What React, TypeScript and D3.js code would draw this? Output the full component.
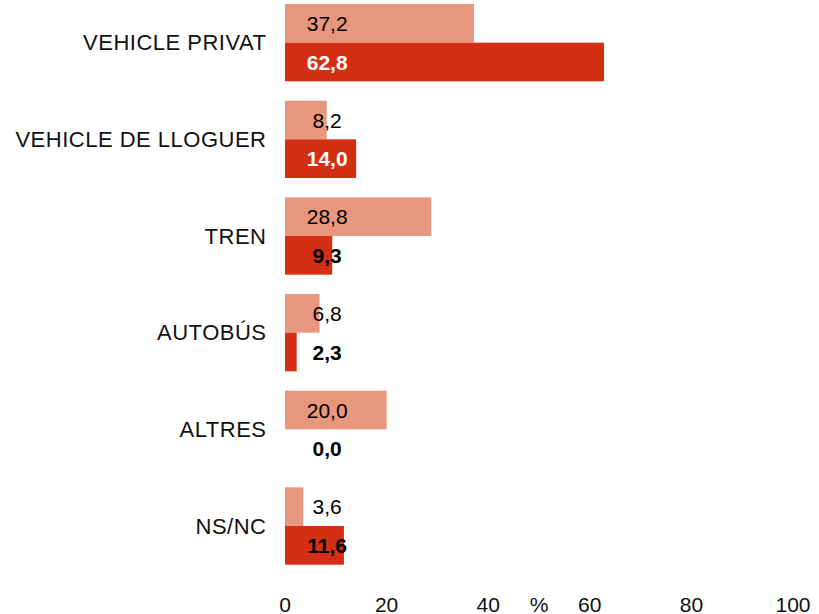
import * as d3 from 'd3'

const categories = ['VEHICLE PRIVAT', 'VEHICLE DE LLOGUER', 'TREN', 'AUTOBÚS', 'ALTRES', 'NS/NC']
const seriesKeys = ['a', 'b']
const lightValues = [37.2, 8.2, 28.8, 6.8, 20.0, 3.6]
const redValues = [62.8, 14.0, 9.3, 2.3, 0.0, 11.6]
const xTicks = [0, 20, 40, 60, 80, 100]

const fmt = (v: number) => v.toFixed(1).replace('.', ',')

export default function App() {
  const width = 819
  const height = 614
  const font = "Arial, 'Liberation Sans', sans-serif"

  const x = d3.scaleLinear().domain([0, 100]).range([285, 793])

  const step = 96.67
  const y = d3.scaleBand<string>()
    .domain(categories)
    .range([4, 4 + 5 * step + step * 0.8])
    .paddingInner(0.2)
    .paddingOuter(0)

  const sub = d3.scaleBand<string>()
    .domain(seriesKeys)
    .range([0, y.bandwidth()])
    .padding(0)

  const colors = { a: '#E8967D', b: '#D42E14' }
  const labelX = x(8.3)

  return (
    <svg
      width={width}
      height={height}
      style={{ position: 'absolute', left: 0, top: 0, background: '#fff' }}
      fontFamily={font}
    >
      {categories.map((cat, i) => {
        const y0 = y(cat)!
        const rows = [
          { key: 'a', v: lightValues[i] },
          { key: 'b', v: redValues[i] }
        ]
        return (
          <g key={cat}>
            <text
              x={266.5}
              y={y0 + y.bandwidth() / 2}
              textAnchor="end"
              dominantBaseline="central"
              fontSize={22}
              letterSpacing={0.5}
              fill="#111"
            >
              {cat}
            </text>
            {rows.map(r => {
              const by = y0 + sub(r.key)!
              const w = x(r.v) - x(0)
              const bold = r.key === 'b'
              const white = bold && r.v >= 13
              return (
                <g key={r.key}>
                  {w > 0 && (
                    <rect
                      x={x(0)}
                      y={by}
                      width={w}
                      height={sub.bandwidth()}
                      fill={colors[r.key as 'a' | 'b']}
                    />
                  )}
                  <text
                    x={labelX}
                    y={by + sub.bandwidth() / 2}
                    textAnchor="middle"
                    dominantBaseline="central"
                    fontSize={21}
                    fontWeight={bold ? 'bold' : 'normal'}
                    fill={white ? '#fff' : '#000'}
                  >
                    {fmt(r.v)}
                  </text>
                </g>
              )
            })}
          </g>
        )
      })}

      {xTicks.map(t => (
        <text key={t} x={x(t)} y={611.5} textAnchor="middle" fontSize={21} fill="#111">
          {t}
        </text>
      ))}
      <text x={x(50)} y={611.5} textAnchor="middle" fontSize={21} fill="#111">
        %
      </text>
    </svg>
  )
}
